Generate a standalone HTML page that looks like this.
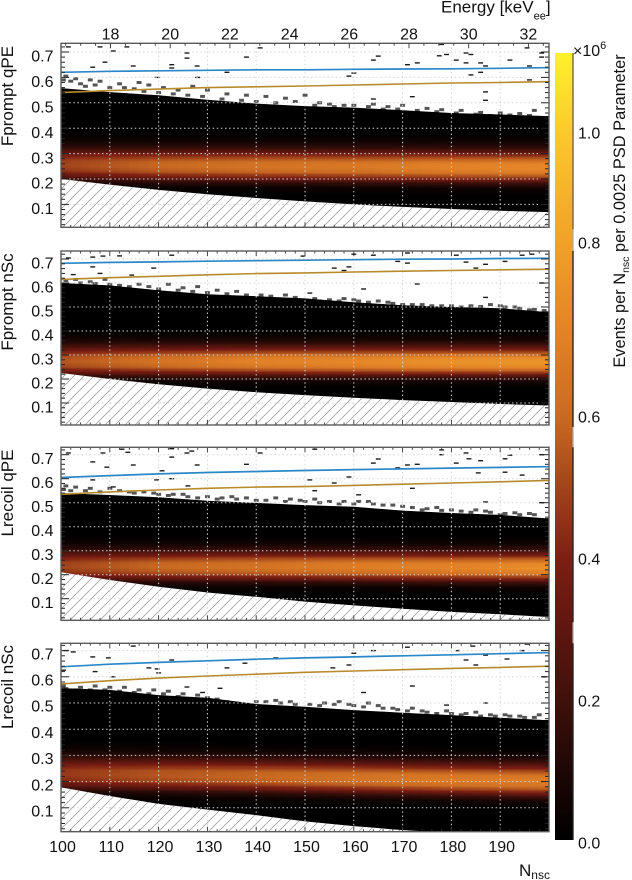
<!DOCTYPE html>
<html lang="en">
<head>
<meta charset="utf-8">
<title>PSD parameter heatmaps</title>
<style>
html,body{margin:0;padding:0;background:#fff;}
svg{display:block;font-family:"Liberation Sans",Arial,sans-serif;fill:#111;}
</style>
</head>
<body>
<svg id="chart" xmlns="http://www.w3.org/2000/svg" width="632" height="880" viewBox="0 0 632 880">
<defs>
<pattern id="hatch" patternUnits="userSpaceOnUse" width="10" height="10">
<path d="M-1 11L11 -1M-1 1L1 -1M9 11L11 9" stroke="#969696" stroke-width="0.75" fill="none"/>
</pattern>
<linearGradient id="cbar-gradient" gradientUnits="userSpaceOnUse" x1="0" y1="840" x2="0" y2="53"></linearGradient>
</defs>
<text x="441" y="12.5" font-size="17">Energy [keV<tspan dy="7" font-size="11">ee</tspan><tspan dy="-7">]</tspan></text>
<text x="519" y="876" font-size="17">N<tspan dy="3" font-size="12">nsc</tspan></text>
<text transform="translate(625 211) rotate(-90)" text-anchor="middle" font-size="16.4">Events per N<tspan dy="4" font-size="10.5">nsc</tspan><tspan dy="-4"> per 0.0025 PSD Parameter</tspan></text>
<text x="573" y="56" font-size="16">×10<tspan dy="-7" font-size="11">6</tspan></text>
<g id="panels"></g>
<g id="colorbar"></g>
</svg>
<script>
// ---- shared axis categories ----
const nscKnots = [100,110,120,130,140,150,160,170,180,190,199];
const bandKnots = [100,120,140,160,180,199];
const psdTicks = [0.1,0.2,0.3,0.4,0.5,0.6,0.7];
const psdTickLabels = ['0.1','0.2','0.3','0.4','0.5','0.6','0.7'];
const nscTicks = [100,110,120,130,140,150,160,170,180,190];
const energyTicks = [18,20,22,24,26,28,30,32];
const colorTicks = [0,0.2,0.4,0.6,0.8,1.0];
const colorTickLabels = ['0.0','0.2','0.4','0.6','0.8','1.0'];
// ---- colour scale ----
const cmapValues = [0,0.1,0.2,0.3,0.4,0.5,0.6,0.7,0.8,0.9,1.0,1.1];
const cmapColors = ['#000000','#1e0705','#40100a','#5f1610','#7c1f12','#a0441b','#c96a22','#e38328','#f0a12a','#f6b42b','#fbc92c','#fff12c'];
// ---- band shape: relative intensity vs PSD offset from the band centre ----
const bandOffsets = [-0.12,-0.10,-0.08,-0.06,-0.04,-0.02,0,0.02,0.04,0.06,0.08,0.10,0.12,0.14];
const bandProfile = [0,0.015,0.07,0.25,0.62,0.92,1,0.97,0.75,0.45,0.22,0.09,0.03,0];
// ---- Fprompt qPE ----
const fqLower = [.20,.178,.157,.14,.125,.112,.10,.09,.082,.075,.07];
const fqUpper = [.558,.542,.53,.512,.497,.487,.481,.471,.46,.454,.448];
const fqBlue = [.620,.624,.626,.628,.630,.630,.632,.633,.634,.636,.638];
const fqOrange = [.54,.548,.554,.56,.563,.566,.57,.574,.578,.58,.583];
const fqCenter = [.254,.250,.248,.246,.244,.243];
const fqPeak = [.50,.60,.64,.66,.70,.72];
const fqOutliers = [[101.5,.72],[108,.72],[110.7,.704],[113.5,.72],[125.8,.696],[125.8,.676],[138,.68],[140.8,.716],[109,.66],[106.5,.64],[114.8,.645],[122.7,.65],[122.7,.637],[127.9,.645],[119.7,.60],[134,.62],[128,.60],[165,.684],[164,.668],[160,.617],[159,.605],[171,.65],[173,.657],[179,.69],[177.5,.685],[183,.696],[184,.69],[181,.668],[183,.657],[186,.657],[187,.645],[186,.62],[184,.61],[192,.668],[195.5,.716],[196,.645],[198.5,.696],[198.5,.68],[187,.543],[187,.51],[172,.524],[164,.515],[196,.59],[178,.73]];
const fqEdgeHits = [[101,.605],[103,.595],[106,.59],[108,.585],[112,.575],[116,.58],[118,.57],[121,.56],[124,.55],[127,.565],[130,.55],[134,.535],[138,.53],[142,.525],[146,.518],[150,.53],[153,.50],[155,.495],[158,.49],[164,.495],[167,.485],[170,.49],[175,.478],[178,.473],[182,.47],[186,.462],[190,.46],[194,.458],[197,.47],[100.5,.59],[102,.585],[104,.575],[105,.565],[107,.57],[110,.56],[113,.56],[115,.555],[117,.545],[120,.54],[123,.535],[126,.53],[129,.525],[133,.515],[137,.51],[140,.505],[144,.50],[148,.505],[152,.49],[156,.485],[160,.49],[163,.485],[166,.475],[169,.475],[173,.47],[177,.465],[181,.46],[185,.455],[188,.45],[192,.452],[196,.45]];
// ---- Fprompt nSc ----
const fnLower = [.225,.2,.178,.16,.145,.133,.122,.112,.104,.096,.09];
const fnUpper = [.6,.59,.57,.553,.545,.536,.52,.507,.5,.495,.48];
const fnBlue = [.682,.686,.688,.691,.693,.695,.697,.699,.700,.702,.703];
const fnOrange = [.615,.622,.628,.634,.639,.642,.646,.649,.652,.655,.657];
const fnCenter = [.272,.271,.270,.269,.268,.267];
const fnPeak = [.55,.64,.70,.72,.75,.76];
const fnOutliers = [[101.5,.704],[106.5,.708],[108.6,.712],[112,.713],[122.7,.716],[106.5,.667],[119,.662],[108,.64],[102.5,.635],[114.5,.633],[149.6,.712],[160,.72],[164,.716],[171,.725],[181,.716],[156,.662],[158,.652],[159,.667],[169,.69],[171,.683],[183,.687],[185,.662],[187,.678],[191,.69],[194.5,.716],[196.5,.72],[173,.596],[162,.575],[198.5,.6],[187,.54],[151,.558]];
const fnEdgeHits = [[101,.61],[103,.615],[106,.605],[109,.615],[112,.59],[116,.595],[118,.585],[122,.595],[125,.58],[128,.585],[132,.57],[136,.565],[141,.55],[146,.55],[152,.535],[155,.53],[158,.535],[161,.525],[165,.525],[168,.515],[172,.51],[176,.505],[180,.505],[184,.505],[188,.51],[191,.50],[194,.495],[197,.49],[199,.485],[104,.60],[107,.598],[110,.595],[114,.585],[120,.575],[124,.57],[127,.565],[130,.56],[134,.555],[138,.55],[143,.545],[148,.54],[153,.525],[157,.525],[160,.53],[163,.52],[167,.52],[170,.51],[174,.51],[178,.505],[182,.50],[186,.502],[190,.505],[193,.50],[196,.488]];
// ---- Lrecoil qPE ----
const lqLower = [.21,.178,.15,.126,.108,.088,.072,.058,.045,.035,.025];
const lqUpper = [.54,.532,.523,.508,.499,.49,.483,.467,.457,.449,.436];
const lqBlue = [.605,.613,.62,.626,.63,.634,.638,.641,.644,.647,.65];
const lqOrange = [.535,.545,.553,.56,.565,.567,.572,.577,.582,.587,.592];
const lqCenter = [.233,.232,.231,.230,.228,.227];
const lqPeak = [.50,.60,.64,.68,.70,.74];
const lqOutliers = [[101.5,.707],[108.6,.707],[112.5,.723],[113.7,.71],[122.7,.725],[122.7,.69],[125.8,.707],[126.8,.715],[106.5,.67],[114.8,.657],[109.4,.648],[127.9,.657],[120.7,.633],[138,.66],[140.8,.707],[106.5,.595],[119.6,.595],[122.7,.6],[126,.57],[110.7,.566],[152,.723],[178,.72],[178,.70],[183,.707],[183.6,.683],[186,.675],[181,.665],[165,.682],[164,.665],[171,.657],[173,.66],[169,.645],[192,.698],[191,.683],[191,.627],[194.5,.615],[185.5,.624],[198.5,.70],[159,.607],[156,.582],[151,.595],[172,.56],[161,.533],[152,.55],[187,.503],[198.5,.50]];
const lqEdgeHits = [[101,.57],[103,.565],[106,.56],[110,.56],[114,.545],[117,.545],[120,.535],[123,.535],[126,.525],[130,.525],[133,.52],[136,.515],[140,.51],[144,.52],[147,.515],[150,.505],[152,.515],[155,.505],[158,.505],[161,.505],[164,.495],[168,.49],[172,.48],[175,.475],[178,.468],[182,.465],[185,.47],[188,.46],[191,.455],[194,.45],[197,.45],[100.5,.555],[102,.55],[105,.55],[108,.545],[112,.55],[115,.54],[119,.54],[122,.53],[125,.535],[128,.52],[132,.515],[135,.525],[138,.52],[142,.51],[146,.505],[149,.51],[153,.50],[157,.495],[160,.495],[163,.505],[166,.49],[170,.485],[174,.47],[177,.48],[180,.47],[184,.46],[187,.465],[190,.45],[193,.458],[196,.455]];
// ---- Lrecoil nSc ----
const lnLower = [.178,.145,.115,.093,.072,.048,.03,.015,.005,.005,.005];
const lnUpper = [.557,.55,.53,.52,.496,.486,.473,.463,.454,.444,.435];
const lnBlue = [.638,.648,.655,.661,.667,.672,.676,.68,.684,.688,.692];
const lnOrange = [.573,.585,.595,.603,.61,.617,.622,.627,.632,.636,.64];
const lnCenter = [.227,.222,.217,.211,.205,.200];
const lnPeak = [.47,.55,.60,.64,.67,.68];
const lnOutliers = [[101,.70],[102.5,.695],[114.8,.717],[106.5,.676],[109.7,.672],[122.7,.664],[119.7,.63],[107,.62],[100.5,.625],[120,.615],[110.7,.6],[134,.634],[137.7,.652],[144,.672],[118,.634],[125.8,.561],[129,.54],[132.6,.556],[146,.47],[165,.73],[171,.713],[184.4,.717],[195.5,.725],[160,.69],[164,.70],[181.3,.70],[187,.683],[194.5,.70],[183,.664],[185,.645],[191.4,.668],[155.7,.634],[159,.645],[162,.54],[172,.565],[199,.60],[187,.50],[179,.492]];
const lnEdgeHits = [[101,.555],[103,.55],[106,.55],[109,.55],[112,.545],[115,.54],[118,.535],[121,.535],[124,.525],[127,.515],[130,.52],[134,.505],[138,.495],[142,.505],[145,.50],[148,.495],[153,.49],[156,.495],[159,.495],[162,.485],[165,.49],[168,.48],[171,.47],[174,.47],[177,.46],[180,.46],[183,.46],[186,.45],[189,.45],[192,.45],[195,.445],[198,.455],[100.5,.565],[104,.56],[107,.565],[110,.56],[113,.56],[116,.55],[119,.55],[122,.545],[125,.535],[128,.53],[132,.515],[136,.50],[140,.505],[144,.51],[147,.505],[151,.495],[154,.50],[157,.505],[160,.49],[163,.50],[166,.48],[169,.475],[172,.48],[175,.465],[179,.47],[182,.455],[185,.465],[188,.455],[191,.455],[194,.45],[197,.445]];

// ---- layout (not data) ----
const SVGNS = 'http://www.w3.org/2000/svg';
const plotLeft = 61, plotRight = 549;
const layouts = [
 {key:'fprompt-qpe', title:'Fprompt qPE', top:43.3, bottom:227.3, y07:52, unit:254, titleY:96, lab:4,
  lower:fqLower, upper:fqUpper, blue:fqBlue, orange:fqOrange, center:fqCenter, peak:fqPeak, out:fqOutliers, edge:fqEdgeHits},
 {key:'fprompt-nsc', title:'Fprompt nSc', top:251, bottom:425, y07:259, unit:240, titleY:302, lab:4,
  lower:fnLower, upper:fnUpper, blue:fnBlue, orange:fnOrange, center:fnCenter, peak:fnPeak, out:fnOutliers, edge:fnEdgeHits},
 {key:'lrecoil-qpe', title:'Lrecoil qPE', top:447.3, bottom:620.3, y07:454.7, unit:240, titleY:493, lab:3.5,
  lower:lqLower, upper:lqUpper, blue:lqBlue, orange:lqOrange, center:lqCenter, peak:lqPeak, out:lqOutliers, edge:lqEdgeHits},
 {key:'lrecoil-nsc', title:'Lrecoil nSc', top:643.3, bottom:831.7, y07:650.6, unit:262, titleY:687, lab:3,
  lower:lnLower, upper:lnUpper, blue:lnBlue, orange:lnOrange, center:lnCenter, peak:lnPeak, out:lnOutliers, edge:lnEdgeHits}
];

function mk(parent, tag, attrs, text) {
  const el = document.createElementNS(SVGNS, tag);
  for (const k in attrs) el.setAttribute(k, attrs[k]);
  if (text !== undefined) el.textContent = text;
  parent.appendChild(el);
  return el;
}
function lerp(xs, ys, x) {
  if (x <= xs[0]) return ys[0];
  for (let i = 1; i < xs.length; i++) {
    if (x <= xs[i]) return ys[i-1] + (ys[i]-ys[i-1]) * (x-xs[i-1]) / (xs[i]-xs[i-1]);
  }
  return ys[ys.length-1];
}
function hexToRgb(h) { return [1,3,5].map(i => parseInt(h.substr(i,2),16)); }
function cmap(v) {
  const rgbs = cmapColors.map(hexToRgb);
  const c = [0,1,2].map(ch => Math.round(lerp(cmapValues, rgbs.map(r => r[ch]), v)));
  return 'rgb(' + c.join(',') + ')';
}
const xNsc = n => plotLeft + (n - 100) * (plotRight - plotLeft) / 100;
const xEnergy = e => 110.5 + (e - 18) * 29.85;

layouts.forEach(function(p, idx) {
  const yPsd = v => p.y07 + (0.7 - v) * p.unit;
  const root = document.getElementById('panels');
  const g = mk(root, 'g', {});
  
  

  const clipId = 'clip-' + p.key;
  const clip = mk(document.querySelector('defs'), 'clipPath', {id: clipId});
  mk(clip, 'rect', {x: plotLeft, y: p.top, width: plotRight - plotLeft, height: p.bottom - p.top});

  const body = mk(g, 'g', {'clip-path': 'url(#' + clipId + ')'});
  
  

  // sparse bins above the band
  p.edge.forEach(function(d) {
    const r = mk(body, 'rect', {x: (xNsc(d[0]) - 2.44).toFixed(1), y: (yPsd(d[1]) - 1.5).toFixed(1), width: 4.9, height: 3, fill: '#555'});
    
    
  });
  p.out.forEach(function(d) {
    const r = mk(body, 'rect', {x: (xNsc(d[0]) - 2.44).toFixed(1), y: (yPsd(d[1]) - 0.7).toFixed(1), width: 4.9, height: 1.4, fill: '#1c1c1c'});
    
    
  });

  // black populated region
  const upperPts = nscKnots.map((n,i) => xNsc(n).toFixed(1) + ',' + yPsd(p.upper[i]).toFixed(1));
  const black = mk(body, 'polygon', {fill: '#000', points: xNsc(100) + ',' + p.bottom + ' ' + upperPts.join(' ') + ' ' + xNsc(200) + ',' + yPsd(p.upper[10]).toFixed(1) + ' ' + xNsc(200) + ',' + p.bottom});
  
  

  // heatmap cells
  const cells = mk(body, 'g', {'shape-rendering': 'crispEdges'});
  
  
  for (let n = 100; n < 200; n += 2) {
    const c = lerp(bandKnots, p.center, n + 1);
    const pk = lerp(bandKnots, p.peak, n + 1);
    for (let i = 0; i < 64; i++) {
      const psd = 0.08 + i * 0.005;
      const v = pk * lerp(bandOffsets, bandProfile, psd + 0.0025 - c);
      if (v < 0.01) continue;
      const yT = yPsd(psd + 0.005), yB = yPsd(psd);
      const cell = mk(cells, 'rect', {x: xNsc(n).toFixed(2), y: yT.toFixed(2), width: (xNsc(n+2) - xNsc(n) + 0.3).toFixed(2), height: (yB - yT + 0.3).toFixed(2), fill: cmap(v)});
      
      
    }
  }

  // hatched excluded region
  const lowerPts = nscKnots.map((n,i) => xNsc(n).toFixed(1) + ',' + yPsd(p.lower[i]).toFixed(1));
  const tail = xNsc(200) + ',' + yPsd(p.lower[10]).toFixed(1) + ' ' + xNsc(200) + ',' + (p.bottom + 2) + ' ' + xNsc(100) + ',' + (p.bottom + 2);
  const wh = mk(body, 'polygon', {fill: '#fff', points: lowerPts.join(' ') + ' ' + tail});
  
  
  const ht = mk(body, 'polygon', {fill: 'url(#hatch)', points: lowerPts.join(' ') + ' ' + tail});
  
  

  // grid
  psdTicks.forEach(function(t) {
    const l = mk(body, 'line', {x1: plotLeft, x2: 538, y1: yPsd(t), y2: yPsd(t), stroke: '#d4d4d4', 'stroke-width': 1, 'stroke-dasharray': '1.5 2.6'});
    
    
  });
  nscTicks.slice(1).forEach(function(t) {
    const l = mk(body, 'line', {x1: xNsc(t), x2: xNsc(t), y1: p.top, y2: p.bottom, stroke: '#d4d4d4', 'stroke-width': 1, 'stroke-dasharray': '1.5 2.6'});
    
    
  });

  // fitted lines
  const bluePts = nscKnots.map((n,i) => xNsc(n).toFixed(1) + ',' + yPsd(p.blue[i]).toFixed(1)).join(' ') + ' ' + xNsc(200) + ',' + yPsd(p.blue[10]).toFixed(1);
  const blue = mk(body, 'polyline', {points: bluePts, fill: 'none', stroke: '#2a88c8', 'stroke-width': 1.7});
  
  
  const orangePts = nscKnots.map((n,i) => xNsc(n).toFixed(1) + ',' + yPsd(p.orange[i]).toFixed(1)).join(' ') + ' ' + xNsc(200) + ',' + yPsd(p.orange[10]).toFixed(1);
  const orange = mk(body, 'polyline', {points: orangePts, fill: 'none', stroke: '#b98a2c', 'stroke-width': 1.6});
  
  

  // y ticks: major at 0.1, minor at 0.02
  for (let k = 1; k <= 36; k++) {
    const v = k * 0.02;
    const major = k % 5 === 0;
    const len = major ? 8 : 4;
    [[plotLeft, plotLeft + len],[plotRight, plotRight - len]].forEach(function(s) {
      const t = mk(g, 'line', {x1: s[0], x2: s[1], y1: yPsd(v).toFixed(1), y2: yPsd(v).toFixed(1), stroke: '#222', 'stroke-width': 1});
      
      
    });
  }
  // x ticks
  for (let n = 102; n < 200; n += 2) {
    const major = n % 10 === 0;
    const len = major ? 5 : 2.5;
    const t = mk(g, 'line', {x1: xNsc(n), x2: xNsc(n), y1: p.bottom, y2: p.bottom - len, stroke: '#333', 'stroke-width': 0.9});
    
    
    if (idx > 0) {
      const t2 = mk(g, 'line', {x1: xNsc(n), x2: xNsc(n), y1: p.top, y2: p.top + len, stroke: '#333', 'stroke-width': 0.9});
      
      
    }
  }

  // frame
  const frame = mk(g, 'rect', {x: plotLeft, y: p.top, width: plotRight - plotLeft, height: p.bottom - p.top, fill: 'none', stroke: '#5a5a5a', 'stroke-width': 1.4});
  
  

  // y labels and title
  psdTicks.forEach(function(t, i) {
    const tx = mk(g, 'text', {x: 53.5, y: (yPsd(t) + p.lab + 5.7).toFixed(1), 'text-anchor': 'end', 'font-size': 16}, psdTickLabels[i]);
    
    
  });
  const title = mk(g, 'text', {transform: 'translate(13 ' + p.titleY + ') rotate(-90)', 'text-anchor': 'middle', 'font-size': 17}, p.title);
  
  

  // top energy axis on the first panel
  if (idx === 0) {
    for (let e = 16.5; e < 32.8; e += 0.5) {
      const major = e === Math.floor(e) && e % 2 === 0;
      const t = mk(g, 'line', {x1: xEnergy(e).toFixed(1), x2: xEnergy(e).toFixed(1), y1: p.top, y2: p.top + (major ? 5 : 2.5), stroke: '#333', 'stroke-width': 0.9});
      
      
    }
    energyTicks.forEach(function(e) {
      const tx = mk(g, 'text', {x: xEnergy(e).toFixed(1), y: 39.5, 'text-anchor': 'middle', 'font-size': 16}, String(e));
      
      
    });
  }
  // bottom Nsc labels on the last panel
  if (idx === layouts.length - 1) {
    nscTicks.forEach(function(n) {
      const tx = mk(g, 'text', {x: (xNsc(n) + 1.5).toFixed(1), y: 852, 'text-anchor': 'middle', 'font-size': 16}, String(n));
      
      
    });
  }
});

// ---- colour bar ----
const cbarAxisValues = [0,0.2,0.4,0.6,0.8,1.0,1.1];
const cbarAxisPixels = [840,701,559,417,243,133,53];
const yColor = v => lerp(cbarAxisValues, cbarAxisPixels, v);
(function() {
  const grad = document.getElementById('cbar-gradient');
  cmapValues.forEach(function(v, i) {
    mk(grad, 'stop', {offset: ((840 - yColor(v)) / 787).toFixed(4), 'stop-color': cmapColors[i]});
  });
  const cb = document.getElementById('colorbar');
  const bar = mk(cb, 'rect', {x: 555, y: 53, width: 18, height: 787, fill: 'url(#cbar-gradient)'});
  
  
  const axis = mk(cb, 'line', {x1: 573, x2: 573, y1: 53, y2: 840, stroke: '#a8a8a8', 'stroke-width': 1.2});
  
  
  layouts.forEach(function(p) {
    const s = mk(cb, 'line', {x1: 573, x2: 573, y1: Math.max(53, p.top), y2: p === layouts[3] ? 840 : p.bottom + 2, stroke: p === layouts[0] ? '#6b5c20' : '#111', 'stroke-width': 1.2});
    
    
  });
  colorTicks.forEach(function(v, i) {
    const tx = mk(cb, 'text', {x: 578, y: (yColor(v) + (v === 0 ? 3 : 0) + 5.7).toFixed(1), 'font-size': 16}, colorTickLabels[i]);
    
    
  });
})();
</script>
</body>
</html>
